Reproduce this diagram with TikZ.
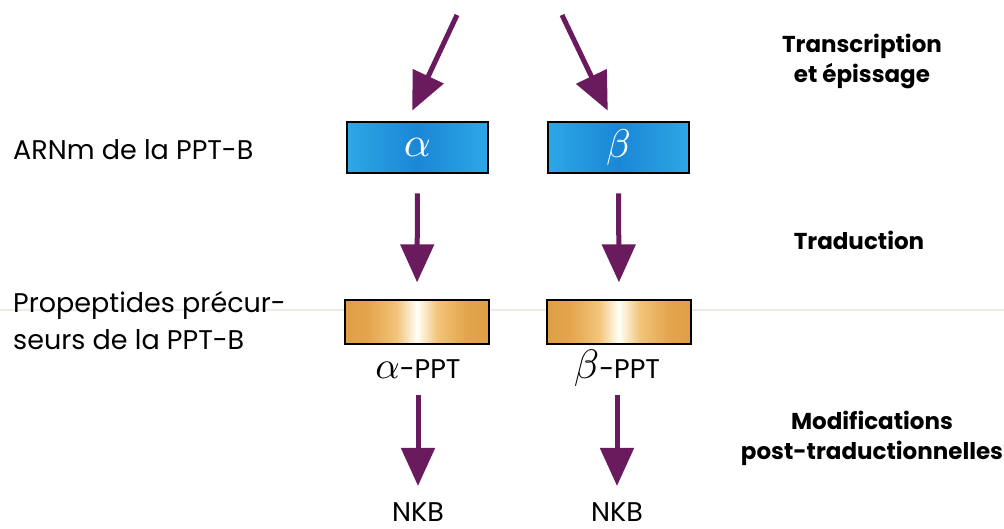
\documentclass[tikz,border=0pt]{standalone}
\usepackage{fontspec}
\setmainfont{Poppins}
\usetikzlibrary{arrows.meta}
\definecolor{arrowpurple}{HTML}{6A1B5E}
\definecolor{foldline}{HTML}{ECECE6}
% blue mRNA fill: light cyan at the ends, deeper blue in the middle
\pgfdeclarehorizontalshading{mrnashade}{100bp}{%
  rgb(0bp)=(0.25,0.78,0.95); rgb(12bp)=(0.22,0.72,0.93);
  rgb(50bp)=(0.10,0.53,0.84); rgb(88bp)=(0.22,0.72,0.93);
  rgb(100bp)=(0.27,0.80,0.96)}
% orange propeptide fill with a narrow white glow in the middle
\pgfdeclarehorizontalshading{propshade}{100bp}{%
  rgb(0bp)=(0.85,0.58,0.24); rgb(25bp)=(0.87,0.62,0.27);
  rgb(33bp)=(0.89,0.65,0.30); rgb(43bp)=(0.95,0.77,0.48);
  rgb(50bp)=(1,1,0.97); rgb(57bp)=(0.95,0.77,0.48);
  rgb(67bp)=(0.89,0.65,0.30); rgb(75bp)=(0.87,0.62,0.27);
  rgb(100bp)=(0.85,0.58,0.24)}
% large Greek letters from the math font
\newcommand{\biggreek}[2]{\scalebox{#1}{\normalsize$#2$}}
\begin{document}
\begin{tikzpicture}[x=1pt,y=-1pt,
  flow/.style={draw=arrowpurple, line width=5pt,
    -{Triangle[width=33pt,length=38pt]}},
  mrna/.style={draw=black, line width=2.8pt, minimum width=141pt,
    minimum height=51pt, inner sep=0pt, shading=mrnashade,
    text=white},
  propep/.style={draw=black, line width=1.3pt, minimum width=144pt,
    minimum height=44pt, inner sep=0pt, shading=propshade},
  lbl/.style={font=\fontsize{27}{37}\selectfont, align=left, anchor=west,
    inner sep=0pt},
  prod/.style={font=\fontsize{27}{30}\selectfont, inner sep=0pt,
    anchor=base, text depth=6pt},
  stage/.style={font=\bfseries\fontsize{23}{30}\selectfont, align=center,
    inner sep=0pt}]
\useasboundingbox (0,0) rectangle (1004,529);

% faint fold of the page
\draw[foldline, line width=1.5pt] (0,310) -- (1004,310);

% free starts of the upper arrows
\coordinate (sA) at (457,15);
\coordinate (sB) at (562,15);

% mRNA boxes
\node[mrna] (mA) at (417.5,147.5) {\biggreek{4.2}{\alpha}};
\node[mrna] (mB) at (618.5,147.5) {\biggreek{4.0}{\beta}};

% precursor propeptide bars
\node[propep] (pA) at (417,322) {};
\node[propep] (pB) at (619,322) {};

% product labels
\node[prod] (lA) at (418,378) {\biggreek{3.8}{\alpha}-PPT};
\node[prod] (lB) at (617,378) {\biggreek{4.1}{\beta}-PPT};
\node[prod] (nA) at (418,521) {NKB};
\node[prod] (nB) at (617,521) {NKB};

% row labels
\node[lbl] (rowA) at (13,150) {ARNm de la PPT-B};
\node[lbl] (rowB) at (13,321) {Propeptides précur-\\seurs de la PPT-B};

% stage labels
\node[stage] (st1) at (862,61) {Transcription\\et épissage};
\node[stage] (st2) at (859,240) {Traduction};
\node[stage] (st3) at (872,438) {Modifications\\post-traductionnelles};

% arrows
\draw[flow, shorten >=11pt] (sA) -- ([xshift=-10pt]mA.north);
\draw[flow, shorten >=11pt] (sB) -- ([xshift=-6pt]mB.north);
\draw[flow, shorten <=19pt, shorten >=17pt] (mA.south) -- (pA.north);
\draw[flow, shorten <=19pt, shorten >=17pt] (mB.south) -- (pB.north);
\draw[flow, shorten <=11pt, shorten >=16pt] (lA.south) -- (nA.north);
\draw[flow, shorten <=11pt, shorten >=16pt] (lB.south) -- (nB.north);
\end{tikzpicture}
\end{document}
